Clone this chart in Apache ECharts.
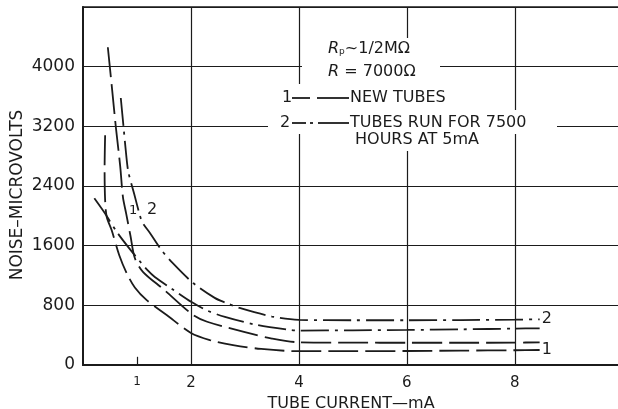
<!DOCTYPE html>
<html>
<head>
<meta charset="utf-8">
<script src="https://cdn.jsdelivr.net/npm/echarts@6/dist/echarts.min.js"></script>
<style>
  html, body { margin: 0; padding: 0; background: #fff; }
  #chart { width: 618px; height: 409px; }
</style>
</head>
<body>
<div id="chart"></div>
<script>
// Tick labels and grid positions
const xTickValues = [1, 2, 4, 6, 8];
const xGridValues = [2, 4, 6, 8];
const yTickValues = [0, 800, 1600, 2400, 3200, 4000];

// Noise (microvolts) against tube current (mA)
// Curve pair 1: new tubes
const newTubesUpper = [[0.46,4260],[0.54,3690],[0.61,3180],[0.69,2660],[0.74,2250],[0.80,2030],[0.88,1730],[0.96,1435],[1.11,1250],[1.5,1010],[2.04,670],[2.3,580],[3.0,440],[3.5,355],[4.0,305],[5,300],[6,298],[7,298],[8,300],[8.46,304]];
const newTubesLower = [[0.41,3080],[0.40,2620],[0.41,2210],[0.44,1985],[0.53,1810],[0.67,1475],[0.81,1230],[0.96,1040],[1.18,870],[1.55,670],[2.0,430],[2.35,335],[2.78,268],[3.3,215],[4,185],[5,185],[6,188],[7,193],[8,198],[8.46,201]];
// Curve pair 2: tubes run for 7500 hours at 5 mA
const agedTubesUpper = [[0.70,3580],[0.75,3200],[0.80,2820],[0.84,2590],[0.95,2290],[1.06,1990],[1.11,1900],[1.24,1770],[1.45,1545],[1.65,1375],[2.04,1100],[2.44,900],[2.66,830],[2.9,765],[3.5,650],[4,605],[5,600],[6,600],[7,603],[8,608],[8.46,613]];
const agedTubesLower = [[0.21,2235],[0.40,2040],[0.63,1780],[0.85,1570],[1.06,1385],[1.19,1275],[1.33,1180],[1.65,1020],[2.02,840],[2.3,730],[2.63,645],[3.2,540],[3.83,470],[4,462],[5,465],[6,470],[7,478],[8,488],[8.46,492]];

const FONT = 'DejaVu Sans';
const INK = '#1b1b1b';
const DASH_NEW = [30, 7];
const DASH_AGED = [28, 6, 3, 6];

function curve(name, data, dash, endText) {
  return {
    name: name,
    type: 'line',
    data: data,
    smooth: 0.3,
    symbol: 'none',
    clip: true,
    lineStyle: { color: INK, width: 1.8, type: dash },
    endLabel: endText ? {
      show: true, formatter: endText, color: INK,
      fontFamily: FONT, fontSize: 16, distance: 2
    } : { show: false }
  };
}

const chart = echarts.init(document.getElementById('chart'), null, { renderer: 'canvas' });

const series = [
  curve('New tubes (upper)', newTubesUpper, DASH_NEW, null),
  curve('New tubes (lower)', newTubesLower, DASH_NEW, '1'),
  curve('7500 h tubes (upper)', agedTubesUpper, DASH_AGED, '2'),
  curve('7500 h tubes (lower)', agedTubesLower, DASH_AGED, null)
];

// vertical grid lines and the short tick at 1 mA
series[0].markLine = {
  silent: true,
  symbol: 'none',
  label: { show: false },
  lineStyle: { color: INK, width: 1.2, type: 'solid' },
  data: xGridValues.map(v => ({ xAxis: v })).concat([
    [{ coord: [1, 0] }, { coord: [1, 110] }]
  ])
};

function txt(x, y, text, extra) {
  return {
    type: 'text', x: x, y: y, z: 101,
    style: Object.assign({
      text: text, fill: INK, font: '16px "' + FONT + '"',
      textAlign: 'left', textVerticalAlign: 'middle'
    }, extra || {})
  };
}
function rect(x, y, w, h) {
  return { type: 'rect', z: 100, shape: { x: x, y: y, width: w, height: h }, style: { fill: '#fff' } };
}
function seg(x1, y1, x2, y2) {
  return { type: 'line', z: 101, shape: { x1: x1, y1: y1, x2: x2, y2: y2 }, style: { stroke: INK, lineWidth: 1.8 } };
}

const richNote = {
  i: { fontFamily: FONT, fontSize: 16, fontStyle: 'italic', fill: INK },
  sub: { fontFamily: FONT, fontSize: 9, fill: INK, padding: [6, 0, 0, 0] },
  n: { fontFamily: FONT, fontSize: 16, fill: INK }
};

chart.setOption({
  backgroundColor: '#fff',
  animation: false,
  grid: {
    left: 83, top: 7, width: 536, height: 358,
    outerBoundsMode: 'none', containLabel: false,
    show: true, borderColor: INK, borderWidth: 1.5, backgroundColor: 'transparent'
  },
  xAxis: {
    type: 'value', min: 0, max: 9.93, interval: 1,
    name: 'TUBE CURRENT—mA', nameLocation: 'middle', nameGap: 23,
    nameTextStyle: { fontFamily: FONT, fontSize: 16, color: INK },
    axisLine: { show: true, lineStyle: { color: INK, width: 2 } },
    axisTick: { show: false },
    splitLine: { show: false },
    axisLabel: {
      color: INK, fontFamily: FONT, fontSize: 15, margin: 11,
      formatter: v => xTickValues.indexOf(v) < 0 ? '' : (v === 1 ? '{s|1}' : String(v)),
      rich: { s: { fontFamily: FONT, fontSize: 12, color: INK } }
    }
  },
  yAxis: {
    type: 'value', min: 0, max: 4800, interval: 800,
    axisLine: { show: true, lineStyle: { color: INK, width: 2 } },
    axisTick: { show: false },
    splitLine: { show: true, lineStyle: { color: INK, width: 1.2 } },
    axisLabel: {
      color: INK, fontFamily: FONT, fontSize: 17, margin: 8,
      formatter: v => yTickValues.indexOf(v) < 0 ? '' : String(v)
    }
  },
  series: series,
  graphic: [
    // blank areas behind the notes
    rect(322, 38, 100, 22),
    rect(302, 60, 138, 24),
    rect(278, 84, 184, 26),
    rect(268, 110, 289, 24),
    rect(345, 134, 150, 17),
    // notes
    {
      type: 'text', x: 328, y: 49, z: 101,
      style: { text: '{i|R}{sub|p}{n|~1/2MΩ}', rich: richNote, textVerticalAlign: 'middle' }
    },
    {
      type: 'text', x: 328, y: 72, z: 101,
      style: { text: '{i|R}{n| = 7000Ω}', rich: richNote, textVerticalAlign: 'middle' }
    },
    txt(282, 98, '1'),
    seg(292, 98, 310, 98), seg(317, 98, 349, 98),
    txt(350, 98, 'NEW TUBES'),
    txt(280, 123, '2'),
    seg(292, 123, 306, 123), seg(310, 123, 313, 123), seg(318, 123, 349, 123),
    txt(350, 123, 'TUBES RUN FOR 7500'),
    txt(355, 140, 'HOURS AT 5mA'),
    // curve pair markers near the steep ends
    txt(129, 211, '1', { font: '13px "' + FONT + '"' }),
    txt(147, 210, '2'),
    // y axis title
    {
      type: 'text', x: 18, y: 195, rotation: Math.PI / 2, z: 101,
      style: {
        text: 'NOISE–MICROVOLTS', fill: INK, font: '17px "' + FONT + '"',
        textAlign: 'center', textVerticalAlign: 'middle'
      }
    }
  ]
});
</script>
</body>
</html>
